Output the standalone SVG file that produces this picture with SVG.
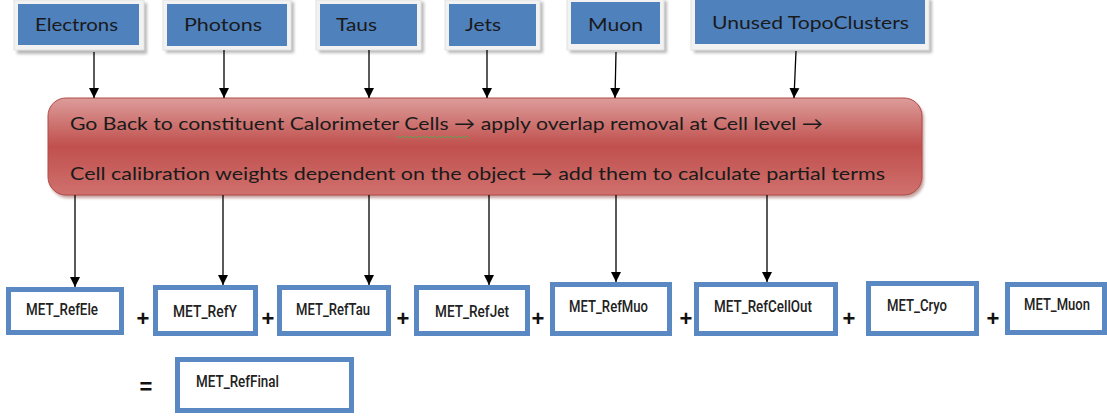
<svg xmlns="http://www.w3.org/2000/svg" width="1107" height="418" viewBox="0 0 1107 418">
  <defs>
    <linearGradient id="redFill" x1="0" y1="0" x2="0" y2="1">
      <stop offset="0" stop-color="#dc9c9a"/>
      <stop offset="0.5" stop-color="#c0504d"/>
      <stop offset="1" stop-color="#cf716e"/>
    </linearGradient>
    <marker id="arrow" viewBox="0 0 10 10" refX="10" refY="5" markerWidth="10" markerHeight="11" markerUnits="userSpaceOnUse" orient="auto">
      <path d="M0,0 L10,5 L0,10 z" fill="#000"/>
    </marker>
    <filter id="soft" x="-10%" y="-10%" width="130%" height="140%">
      <feGaussianBlur stdDeviation="1.5"/>
    </filter>
  </defs>
  <style>
    .frame { fill: #f2f2f2; stroke: #e2e2e2; stroke-width: 1; }
    .shadow { fill: #b8b8b8; }
    .blue { fill: #4f81bd; }
    .lbl { font-family: Lato, "Liberation Sans", sans-serif; font-size: 18px; fill: #1a1a1a; }
    .main { font-family: Lato, "Liberation Sans", sans-serif; font-size: 18px; fill: #1a1a1a; }
    .met { fill: #ffffff; stroke: #5a88c3; stroke-width: 5; }
    .mtxt { font-family: Roboto, "Liberation Sans", sans-serif; font-weight: 500; font-size: 17px; fill: #222; }
    .op { font-family: "Liberation Sans", sans-serif; font-size: 22px; font-weight: bold; fill: #111; text-anchor: middle; }
    .conn { stroke: #000; stroke-width: 1.3; fill: none; marker-end: url(#arrow); }
  </style>

  <rect width="1107" height="418" fill="#ffffff"/>

  <!-- input object boxes -->
  <g id="electrons">
    <rect class="shadow" x="17" y="3" width="130" height="51" filter="url(#soft)"/>
    <rect class="frame" x="14" y="0" width="130" height="50"/>
    <rect class="blue" x="18" y="4" width="121" height="41"/>
    <text class="lbl" x="35" y="31" textLength="83" lengthAdjust="spacingAndGlyphs">Electrons</text>
  </g>
  <g id="photons">
    <rect class="shadow" x="166" y="2" width="128" height="51" filter="url(#soft)"/>
    <rect class="frame" x="163" y="0" width="128" height="50"/>
    <rect class="blue" x="167" y="4" width="120" height="42"/>
    <text class="lbl" x="184" y="31" textLength="78" lengthAdjust="spacingAndGlyphs">Photons</text>
  </g>
  <g id="taus">
    <rect class="shadow" x="319" y="2" width="105" height="51" filter="url(#soft)"/>
    <rect class="frame" x="316" y="0" width="105" height="50"/>
    <rect class="blue" x="320" y="4" width="97" height="42"/>
    <text class="lbl" x="336" y="31" textLength="41" lengthAdjust="spacingAndGlyphs">Taus</text>
  </g>
  <g id="jets">
    <rect class="shadow" x="448" y="2" width="95" height="51" filter="url(#soft)"/>
    <rect class="frame" x="445" y="0" width="95" height="50"/>
    <rect class="blue" x="449" y="4" width="87" height="42"/>
    <text class="lbl" x="465" y="31" textLength="36" lengthAdjust="spacingAndGlyphs">Jets</text>
  </g>
  <g id="muon">
    <rect class="shadow" x="570" y="1" width="97" height="52" filter="url(#soft)"/>
    <rect class="frame" x="567" y="-1" width="97" height="51"/>
    <rect class="blue" x="571" y="2" width="89" height="42"/>
    <text class="lbl" x="588" y="31" textLength="55" lengthAdjust="spacingAndGlyphs">Muon</text>
  </g>
  <g id="unused-topoclusters">
    <rect class="shadow" x="694" y="0" width="238" height="53" filter="url(#soft)"/>
    <rect class="frame" x="691" y="-2" width="238" height="52"/>
    <rect class="blue" x="695" y="0" width="230" height="44"/>
    <text class="lbl" x="712" y="29" textLength="197" lengthAdjust="spacingAndGlyphs">Unused TopoClusters</text>
  </g>

  <!-- central processing step -->
  <g id="cell-processing">
    <rect x="50" y="101" width="874" height="97" rx="18" fill="#7a2e2c" opacity="0.45" filter="url(#soft)"/>
    <rect x="48" y="98" width="874" height="97" rx="18" fill="url(#redFill)" stroke="#b14a47" stroke-width="1"/>
    <text class="main" x="70" y="130" textLength="753" lengthAdjust="spacingAndGlyphs">Go Back to constituent Calorimeter Cells → apply overlap removal at Cell level →</text>
    <path d="M397,138 l2,-2 l2,2 l2,-2 l2,2 l2,-2 l2,2 l2,-2 l2,2 l2,-2 l2,2 l2,-2 l2,2 l2,-2 l2,2 l2,-2 l2,2 l2,-2 l2,2 l2,-2 l2,2 l2,-2 l2,2 l2,-2 l2,2 l2,-2 l2,2 l2,-2 l2,2 l2,-2 l2,2 l2,-2 l2,2 l2,-2 l2,2 l2,-2 l2,2" fill="none" stroke="#4caf50" stroke-width="0.8"/>
    <text class="main" x="70" y="180" textLength="815" lengthAdjust="spacingAndGlyphs">Cell calibration weights dependent on the object → add them to calculate partial terms</text>
  </g>

  <!-- connectors -->
  <g id="connectors">
    <line class="conn" x1="94" y1="52" x2="94" y2="98"/>
    <line class="conn" x1="224" y1="50" x2="224" y2="98"/>
    <line class="conn" x1="369" y1="50" x2="369" y2="98"/>
    <line class="conn" x1="487" y1="50" x2="487" y2="98"/>
    <line class="conn" x1="616" y1="52" x2="615" y2="98"/>
    <line class="conn" x1="796" y1="51" x2="794" y2="98"/>

    <line class="conn" x1="75" y1="195" x2="75" y2="287"/>
    <line class="conn" x1="223" y1="195" x2="223" y2="285"/>
    <line class="conn" x1="369" y1="195" x2="369" y2="285"/>
    <line class="conn" x1="489" y1="195" x2="489" y2="285"/>
    <line class="conn" x1="616" y1="195" x2="616" y2="282"/>
    <line class="conn" x1="767" y1="195" x2="767" y2="282"/>
  </g>

  <!-- partial MET terms -->
  <g id="met-refele">
    <rect class="met" x="8.5" y="289.5" width="113" height="43"/>
    <text class="mtxt" x="26" y="315" textLength="72" lengthAdjust="spacingAndGlyphs">MET_RefEle</text>
  </g>
  <g id="met-refgamma">
    <rect class="met" x="155.5" y="287.5" width="100" height="46"/>
    <text class="mtxt" x="173" y="317" textLength="64" lengthAdjust="spacingAndGlyphs">MET_RefY</text>
  </g>
  <g id="met-reftau">
    <rect class="met" x="279.5" y="287.5" width="109" height="46"/>
    <text class="mtxt" x="296" y="315" textLength="74" lengthAdjust="spacingAndGlyphs">MET_RefTau</text>
  </g>
  <g id="met-refjet">
    <rect class="met" x="416.5" y="287.5" width="111" height="46"/>
    <text class="mtxt" x="435" y="317" textLength="74" lengthAdjust="spacingAndGlyphs">MET_RefJet</text>
  </g>
  <g id="met-refmuo">
    <rect class="met" x="552.5" y="284.5" width="117" height="49"/>
    <text class="mtxt" x="569" y="312" textLength="79" lengthAdjust="spacingAndGlyphs">MET_RefMuo</text>
  </g>
  <g id="met-refcellout">
    <rect class="met" x="696.5" y="284.5" width="139" height="49"/>
    <text class="mtxt" x="714" y="312" textLength="98" lengthAdjust="spacingAndGlyphs">MET_RefCellOut</text>
  </g>
  <g id="met-cryo">
    <rect class="met" x="868.5" y="283.5" width="108" height="50"/>
    <text class="mtxt" x="887" y="311" textLength="60" lengthAdjust="spacingAndGlyphs">MET_Cryo</text>
  </g>
  <g id="met-muon">
    <rect class="met" x="1007.5" y="284.5" width="97" height="48"/>
    <text class="mtxt" x="1024" y="310" textLength="66" lengthAdjust="spacingAndGlyphs">MET_Muon</text>
  </g>

  <!-- operators -->
  <g id="operators">
    <text class="op" x="143" y="326">+</text>
    <text class="op" x="268" y="326">+</text>
    <text class="op" x="403" y="326">+</text>
    <text class="op" x="538" y="326">+</text>
    <text class="op" x="686" y="326">+</text>
    <text class="op" x="849" y="326">+</text>
    <text class="op" x="993" y="326">+</text>
    <text class="op" x="146" y="394" font-size="26">=</text>
  </g>

  <g id="met-reffinal">
    <rect class="met" x="177.5" y="359.5" width="174" height="51"/>
    <text class="mtxt" x="196" y="387" textLength="83" lengthAdjust="spacingAndGlyphs">MET_RefFinal</text>
  </g>
</svg>
